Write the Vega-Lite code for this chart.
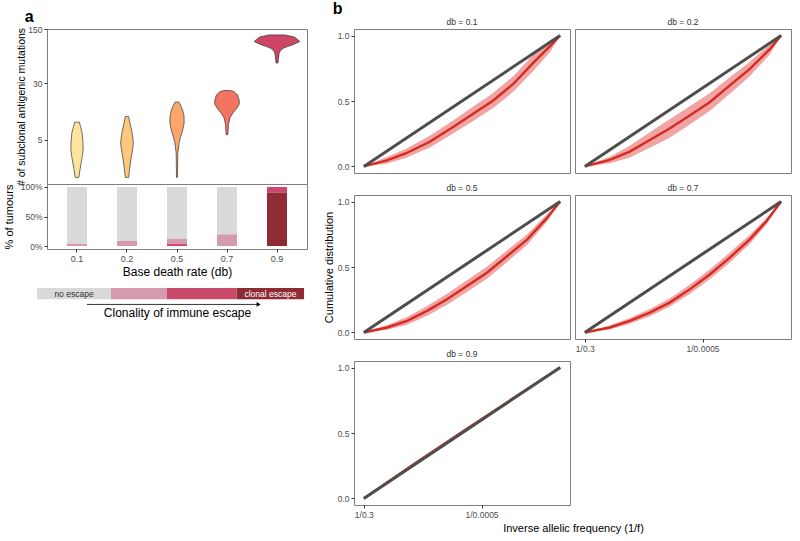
{
  "$schema": "https://vega.github.io/schema/vega-lite/v6.json",
  "background": "white",
  "padding": {"left": 2, "right": 4, "top": 1, "bottom": 2},
  "config": {
    "font": "Liberation Sans",
    "view": {"stroke": "#7f7f7f", "strokeWidth": 1},
    "axis": {"grid": false, "domain": false, "ticks": true, "tickColor": "#333333", "tickSize": 3, "labelColor": "#4d4d4d", "labelFontSize": 8.5, "labelPadding": 2, "titleFontWeight": "normal", "titleColor": "#000000", "titleFontSize": 11},
    "title": {"fontWeight": "normal"}
  },
  "datasets": {
    "violin": [
      {"db": "0.1", "mutations": 0.99, "width": 3.7},
      {"db": "0.1", "mutations": 1.5, "width": 6},
      {"db": "0.1", "mutations": 2.04, "width": 8.3},
      {"db": "0.1", "mutations": 2.65, "width": 10.5},
      {"db": "0.1", "mutations": 3.47, "width": 12.3},
      {"db": "0.1", "mutations": 4.8, "width": 11.8},
      {"db": "0.1", "mutations": 6.3, "width": 10.3},
      {"db": "0.1", "mutations": 7.8, "width": 7},
      {"db": "0.1", "mutations": 9.0, "width": 4.7},
      {"db": "0.2", "mutations": 0.99, "width": 3.3},
      {"db": "0.2", "mutations": 1.6, "width": 5.5},
      {"db": "0.2", "mutations": 2.34, "width": 7.7},
      {"db": "0.2", "mutations": 3.22, "width": 10.5},
      {"db": "0.2", "mutations": 4.4, "width": 12.7},
      {"db": "0.2", "mutations": 5.6, "width": 11.3},
      {"db": "0.2", "mutations": 7.0, "width": 9},
      {"db": "0.2", "mutations": 8.7, "width": 6},
      {"db": "0.2", "mutations": 10.8, "width": 3.3},
      {"db": "0.5", "mutations": 0.99, "width": 1},
      {"db": "0.5", "mutations": 1.89, "width": 1.3},
      {"db": "0.5", "mutations": 3.07, "width": 1.7},
      {"db": "0.5", "mutations": 4.45, "width": 4.3},
      {"db": "0.5", "mutations": 5.35, "width": 6.8},
      {"db": "0.5", "mutations": 6.29, "width": 9.7},
      {"db": "0.5", "mutations": 7.5, "width": 12.5},
      {"db": "0.5", "mutations": 8.76, "width": 14.3},
      {"db": "0.5", "mutations": 11.0, "width": 14},
      {"db": "0.5", "mutations": 13.4, "width": 11},
      {"db": "0.5", "mutations": 15.2, "width": 7.5},
      {"db": "0.5", "mutations": 17.0, "width": 3.7},
      {"db": "0.7", "mutations": 5.94, "width": 1.7},
      {"db": "0.7", "mutations": 8.3, "width": 3},
      {"db": "0.7", "mutations": 10.3, "width": 5.7},
      {"db": "0.7", "mutations": 12.05, "width": 11.7},
      {"db": "0.7", "mutations": 14.1, "width": 20},
      {"db": "0.7", "mutations": 16.1, "width": 24.7},
      {"db": "0.7", "mutations": 18.2, "width": 24.3},
      {"db": "0.7", "mutations": 21.3, "width": 20.7},
      {"db": "0.7", "mutations": 23.3, "width": 14},
      {"db": "0.7", "mutations": 24.2, "width": 6.7},
      {"db": "0.9", "mutations": 55.3, "width": 2},
      {"db": "0.9", "mutations": 63.8, "width": 3},
      {"db": "0.9", "mutations": 74, "width": 4.3},
      {"db": "0.9", "mutations": 80, "width": 7},
      {"db": "0.9", "mutations": 85.7, "width": 12.7},
      {"db": "0.9", "mutations": 90.5, "width": 22},
      {"db": "0.9", "mutations": 94.5, "width": 31},
      {"db": "0.9", "mutations": 100.4, "width": 40},
      {"db": "0.9", "mutations": 104.5, "width": 45.7},
      {"db": "0.9", "mutations": 111, "width": 41},
      {"db": "0.9", "mutations": 119, "width": 35},
      {"db": "0.9", "mutations": 126.9, "width": 16}
    ],
    "bars": [
      {"db": "0.1", "escape": "subclonal low", "pct": 4.4},
      {"db": "0.1", "escape": "unescaped", "pct": 95.6},
      {"db": "0.2", "escape": "subclonal low", "pct": 8.5},
      {"db": "0.2", "escape": "unescaped", "pct": 91.5},
      {"db": "0.5", "escape": "subclonal high", "pct": 3.4},
      {"db": "0.5", "escape": "subclonal low", "pct": 8.6},
      {"db": "0.5", "escape": "unescaped", "pct": 88},
      {"db": "0.7", "escape": "subclonal low", "pct": 20},
      {"db": "0.7", "escape": "unescaped", "pct": 80},
      {"db": "0.9", "escape": "clonal", "pct": 90},
      {"db": "0.9", "escape": "subclonal high", "pct": 10}
    ],
    "legend": [
      {"escape": "unescaped", "label": "no escape", "start": 0, "end": 27.7},
      {"escape": "subclonal low", "label": "", "start": 27.7, "end": 48.6},
      {"escape": "subclonal high", "label": "", "start": 48.6, "end": 74.8},
      {"escape": "clonal", "label": "clonal escape", "start": 74.8, "end": 100}
    ],
    "curves": [
      {"db": "0.1", "invf": 3.3, "mean": 0, "lo": 0, "hi": 0},
      {"db": "0.1", "invf": 383, "mean": 0.045, "lo": 0.02, "hi": 0.07},
      {"db": "0.1", "invf": 722, "mean": 0.101, "lo": 0.066, "hi": 0.136},
      {"db": "0.1", "invf": 1122, "mean": 0.189, "lo": 0.144, "hi": 0.234},
      {"db": "0.1", "invf": 1518, "mean": 0.302, "lo": 0.252, "hi": 0.352},
      {"db": "0.1", "invf": 1858, "mean": 0.403, "lo": 0.348, "hi": 0.458},
      {"db": "0.1", "invf": 2198, "mean": 0.504, "lo": 0.446, "hi": 0.562},
      {"db": "0.1", "invf": 2537, "mean": 0.63, "lo": 0.57, "hi": 0.69},
      {"db": "0.1", "invf": 2880, "mean": 0.793, "lo": 0.731, "hi": 0.855},
      {"db": "0.1", "invf": 3163, "mean": 0.919, "lo": 0.874, "hi": 0.964},
      {"db": "0.1", "invf": 3333, "mean": 1, "lo": 1, "hi": 1},
      {"db": "0.2", "invf": 3.3, "mean": 0, "lo": 0, "hi": 0},
      {"db": "0.2", "invf": 426, "mean": 0.05, "lo": 0.025, "hi": 0.075},
      {"db": "0.2", "invf": 766, "mean": 0.113, "lo": 0.068, "hi": 0.158},
      {"db": "0.2", "invf": 1106, "mean": 0.202, "lo": 0.142, "hi": 0.262},
      {"db": "0.2", "invf": 1442, "mean": 0.29, "lo": 0.22, "hi": 0.36},
      {"db": "0.2", "invf": 1782, "mean": 0.39, "lo": 0.32, "hi": 0.46},
      {"db": "0.2", "invf": 2121, "mean": 0.491, "lo": 0.423, "hi": 0.559},
      {"db": "0.2", "invf": 2458, "mean": 0.617, "lo": 0.554, "hi": 0.68},
      {"db": "0.2", "invf": 2797, "mean": 0.743, "lo": 0.688, "hi": 0.798},
      {"db": "0.2", "invf": 3137, "mean": 0.894, "lo": 0.854, "hi": 0.934},
      {"db": "0.2", "invf": 3333, "mean": 1, "lo": 1, "hi": 1},
      {"db": "0.5", "invf": 3.3, "mean": 0, "lo": 0, "hi": 0},
      {"db": "0.5", "invf": 400, "mean": 0.038, "lo": 0.02, "hi": 0.056},
      {"db": "0.5", "invf": 736, "mean": 0.089, "lo": 0.059, "hi": 0.119},
      {"db": "0.5", "invf": 1076, "mean": 0.165, "lo": 0.127, "hi": 0.203},
      {"db": "0.5", "invf": 1415, "mean": 0.253, "lo": 0.211, "hi": 0.295},
      {"db": "0.5", "invf": 1752, "mean": 0.354, "lo": 0.309, "hi": 0.399},
      {"db": "0.5", "invf": 2091, "mean": 0.456, "lo": 0.411, "hi": 0.501},
      {"db": "0.5", "invf": 2431, "mean": 0.582, "lo": 0.537, "hi": 0.627},
      {"db": "0.5", "invf": 2771, "mean": 0.709, "lo": 0.669, "hi": 0.749},
      {"db": "0.5", "invf": 3107, "mean": 0.873, "lo": 0.843, "hi": 0.903},
      {"db": "0.5", "invf": 3333, "mean": 1, "lo": 1, "hi": 1},
      {"db": "0.7", "invf": 3.3, "mean": 0, "lo": 0, "hi": 0},
      {"db": "0.7", "invf": 426, "mean": 0.038, "lo": 0.023, "hi": 0.053},
      {"db": "0.7", "invf": 766, "mean": 0.089, "lo": 0.067, "hi": 0.111},
      {"db": "0.7", "invf": 1106, "mean": 0.152, "lo": 0.124, "hi": 0.18},
      {"db": "0.7", "invf": 1442, "mean": 0.228, "lo": 0.196, "hi": 0.26},
      {"db": "0.7", "invf": 1782, "mean": 0.329, "lo": 0.294, "hi": 0.364},
      {"db": "0.7", "invf": 2121, "mean": 0.443, "lo": 0.406, "hi": 0.48},
      {"db": "0.7", "invf": 2458, "mean": 0.57, "lo": 0.532, "hi": 0.608},
      {"db": "0.7", "invf": 2797, "mean": 0.709, "lo": 0.674, "hi": 0.744},
      {"db": "0.7", "invf": 3080, "mean": 0.848, "lo": 0.823, "hi": 0.873},
      {"db": "0.7", "invf": 3333, "mean": 1, "lo": 1, "hi": 1},
      {"db": "0.9", "invf": 3.3, "mean": 0, "lo": 0, "hi": 0},
      {"db": "0.9", "invf": 836, "mean": 0.258, "lo": 0.254, "hi": 0.262},
      {"db": "0.9", "invf": 1668, "mean": 0.508, "lo": 0.504, "hi": 0.512},
      {"db": "0.9", "invf": 2501, "mean": 0.755, "lo": 0.751, "hi": 0.759},
      {"db": "0.9", "invf": 3333, "mean": 1, "lo": 1, "hi": 1}
    ],
    "neutral": [
      {"invf": 3.3, "cum": 0},
      {"invf": 3333, "cum": 1}
    ]
  },
  "hconcat": [
    {
      "title": {"text": "a", "anchor": "start", "fontSize": 16, "fontWeight": "bold", "color": "#000000", "offset": 0, "dx": 22},
      "spacing": 10,
      "resolve": {"scale": {"color": "independent"}},
      "vconcat": [
        {
          "spacing": 0,
          "bounds": "flush",
          "resolve": {"scale": {"color": "independent"}},
          "vconcat": [
            {
              "width": 260,
              "height": 155,
              "data": {"name": "violin"},
              "transform": [
                {"calculate": "indexof(['0.1','0.2','0.5','0.7','0.9'], datum.db) + 1", "as": "pos"},
                {"calculate": "datum.pos - datum.width / 100", "as": "left"},
                {"calculate": "datum.pos + datum.width / 100", "as": "right"}
              ],
              "mark": {"type": "area", "orient": "horizontal", "stroke": "#333333", "strokeWidth": 0.7, "opacity": 1},
              "encoding": {
                "y": {"field": "mutations", "type": "quantitative", "scale": {"type": "symlog", "constant": 1, "domain": [0.64, 151], "nice": false, "zero": false}, "axis": {"values": [5, 30, 150], "title": "# of subclonal antigenic mutations", "titlePadding": 1, "titleFontSize": 10.5}},
                "x": {"field": "left", "type": "quantitative", "scale": {"domain": [0.4, 5.6], "nice": false, "zero": false}, "axis": null},
                "x2": {"field": "right"},
                "color": {"field": "db", "type": "nominal", "scale": {"domain": ["0.1", "0.2", "0.5", "0.7", "0.9"], "range": ["#FEE39B", "#FDC77C", "#FBA66B", "#F37460", "#CE4566"]}, "legend": null}
              }
            },
            {
              "width": 260,
              "height": 65,
              "data": {"name": "bars"},
              "mark": {"type": "bar"},
              "encoding": {
                "x": {"field": "db", "type": "nominal", "scale": {"paddingInner": 0.6, "paddingOuter": 0.4}, "axis": {"labelAngle": 0, "title": "Base death rate (db)", "labelFontSize": 9, "titleFontSize": 12, "titlePadding": 3}},
                "y": {"field": "pct", "type": "quantitative", "stack": "zero", "scale": {"domain": [-5, 105], "nice": false, "zero": false}, "axis": {"values": [0, 50, 100], "labelExpr": "datum.value + '%'", "title": "% of tumours", "titlePadding": 6}},
                "color": {"field": "escape", "type": "nominal", "scale": {"domain": ["clonal", "subclonal high", "subclonal low", "unescaped"], "range": ["#8E2B35", "#C9496D", "#D49AAE", "#D9D9D9"]}, "legend": null},
                "order": {"field": "escape", "type": "nominal", "sort": "ascending"}
              }
            }
          ]
        },
        {
          "width": 260,
          "height": 17,
          "view": {"stroke": null},
          "layer": [
            {
              "data": {"name": "legend"},
              "mark": {"type": "bar"},
              "encoding": {
                "x": {"field": "start", "type": "quantitative", "scale": {"domain": [3.745, 101.1], "nice": false, "zero": false}, "axis": {"title": "Clonality of immune escape", "labels": false, "ticks": false, "domain": false, "titleFontSize": 12, "titlePadding": 2}},
                "x2": {"field": "end"},
                "y": {"datum": 1, "type": "quantitative", "scale": {"domain": [-0.5, 1], "nice": false, "zero": false}, "axis": null},
                "y2": {"datum": 0},
                "color": {"field": "escape", "type": "nominal", "scale": {"domain": ["clonal", "subclonal high", "subclonal low", "unescaped"], "range": ["#8E2B35", "#C9496D", "#D49AAE", "#D9D9D9"]}, "legend": null}
              }
            },
            {
              "data": {"name": "legend"},
              "transform": [{"filter": "datum.label != ''"}, {"calculate": "(datum.start + datum.end) / 2", "as": "mid"}],
              "mark": {"type": "text", "fontSize": 8.5, "baseline": "middle"},
              "encoding": {
                "x": {"field": "mid", "type": "quantitative"},
                "y": {"datum": 0.5, "type": "quantitative"},
                "text": {"field": "label"},
                "color": {"condition": {"test": "datum.escape == 'clonal'", "value": "#ffffff"}, "value": "#333333"}
              }
            },
            {
              "data": {"values": [{}]},
              "mark": {"type": "rule", "color": "#000000", "strokeWidth": 0.8},
              "encoding": {"x": {"datum": 18.7, "type": "quantitative"}, "x2": {"datum": 82.5}, "y": {"datum": -0.45, "type": "quantitative"}}
            },
            {
              "data": {"values": [{}]},
              "mark": {"type": "point", "shape": "triangle-right", "filled": true, "color": "#000000", "size": 22, "opacity": 1},
              "encoding": {"x": {"datum": 83, "type": "quantitative"}, "y": {"datum": -0.45, "type": "quantitative"}}
            }
          ]
        }
      ]
    },
    {
      "title": {"text": "b", "anchor": "start", "fontSize": 16, "fontWeight": "bold", "color": "#000000", "offset": 0, "dx": 10},
      "columns": 2,
      "bounds": "flush",
      "spacing": {"row": 22, "column": 5},
      "concat": [
        {
          "width": 216, "height": 144,
          "title": {"text": "db = 0.1", "fontSize": 8.5, "color": "#333333", "offset": 3},
          "layer": [
            {"data": {"name": "curves"}, "transform": [{"filter": "datum.db == '0.1'"}], "mark": {"type": "area", "color": "#F0A4A4", "opacity": 1},
             "encoding": {"x": {"field": "invf", "type": "quantitative", "scale": {"domain": [-163, 3500], "nice": false, "zero": false}, "axis": null}, "y": {"field": "lo", "type": "quantitative", "scale": {"domain": [-0.05, 1.05], "nice": false, "zero": false}, "axis": {"values": [0, 0.5, 1], "format": ".1f", "title": null}}, "y2": {"field": "hi"}}},
            {"data": {"name": "curves"}, "transform": [{"filter": "datum.db == '0.1'"}], "mark": {"type": "line", "color": "#D52B21", "strokeWidth": 2.4},
             "encoding": {"x": {"field": "invf", "type": "quantitative"}, "y": {"field": "mean", "type": "quantitative"}}},
            {"data": {"name": "neutral"}, "mark": {"type": "line", "color": "#4D4D4D", "strokeWidth": 3},
             "encoding": {"x": {"field": "invf", "type": "quantitative"}, "y": {"field": "cum", "type": "quantitative"}}}
          ]
        },
        {
          "width": 216, "height": 144,
          "title": {"text": "db = 0.2", "fontSize": 8.5, "color": "#333333", "offset": 3},
          "layer": [
            {"data": {"name": "curves"}, "transform": [{"filter": "datum.db == '0.2'"}], "mark": {"type": "area", "color": "#F0A4A4", "opacity": 1},
             "encoding": {"x": {"field": "invf", "type": "quantitative", "scale": {"domain": [-163, 3500], "nice": false, "zero": false}, "axis": null}, "y": {"field": "lo", "type": "quantitative", "scale": {"domain": [-0.05, 1.05], "nice": false, "zero": false}, "axis": null}, "y2": {"field": "hi"}}},
            {"data": {"name": "curves"}, "transform": [{"filter": "datum.db == '0.2'"}], "mark": {"type": "line", "color": "#D52B21", "strokeWidth": 2.4},
             "encoding": {"x": {"field": "invf", "type": "quantitative"}, "y": {"field": "mean", "type": "quantitative"}}},
            {"data": {"name": "neutral"}, "mark": {"type": "line", "color": "#4D4D4D", "strokeWidth": 3},
             "encoding": {"x": {"field": "invf", "type": "quantitative"}, "y": {"field": "cum", "type": "quantitative"}}}
          ]
        },
        {
          "width": 216, "height": 144,
          "title": {"text": "db = 0.5", "fontSize": 8.5, "color": "#333333", "offset": 3},
          "layer": [
            {"data": {"name": "curves"}, "transform": [{"filter": "datum.db == '0.5'"}], "mark": {"type": "area", "color": "#F0A4A4", "opacity": 1},
             "encoding": {"x": {"field": "invf", "type": "quantitative", "scale": {"domain": [-163, 3500], "nice": false, "zero": false}, "axis": null}, "y": {"field": "lo", "type": "quantitative", "scale": {"domain": [-0.05, 1.05], "nice": false, "zero": false}, "axis": {"values": [0, 0.5, 1], "format": ".1f", "title": "Cumulative distribution", "titlePadding": 3}}, "y2": {"field": "hi"}}},
            {"data": {"name": "curves"}, "transform": [{"filter": "datum.db == '0.5'"}], "mark": {"type": "line", "color": "#D52B21", "strokeWidth": 2.4},
             "encoding": {"x": {"field": "invf", "type": "quantitative"}, "y": {"field": "mean", "type": "quantitative"}}},
            {"data": {"name": "neutral"}, "mark": {"type": "line", "color": "#4D4D4D", "strokeWidth": 3},
             "encoding": {"x": {"field": "invf", "type": "quantitative"}, "y": {"field": "cum", "type": "quantitative"}}}
          ]
        },
        {
          "width": 216, "height": 144,
          "title": {"text": "db = 0.7", "fontSize": 8.5, "color": "#333333", "offset": 3},
          "layer": [
            {"data": {"name": "curves"}, "transform": [{"filter": "datum.db == '0.7'"}], "mark": {"type": "area", "color": "#F0A4A4", "opacity": 1},
             "encoding": {"x": {"field": "invf", "type": "quantitative", "scale": {"domain": [-163, 3500], "nice": false, "zero": false}, "axis": {"values": [3.333, 2000], "labelExpr": "datum.value < 10 ? '1/0.3' : '1/0.0005'", "title": null}}, "y": {"field": "lo", "type": "quantitative", "scale": {"domain": [-0.05, 1.05], "nice": false, "zero": false}, "axis": null}, "y2": {"field": "hi"}}},
            {"data": {"name": "curves"}, "transform": [{"filter": "datum.db == '0.7'"}], "mark": {"type": "line", "color": "#D52B21", "strokeWidth": 2.4},
             "encoding": {"x": {"field": "invf", "type": "quantitative"}, "y": {"field": "mean", "type": "quantitative"}}},
            {"data": {"name": "neutral"}, "mark": {"type": "line", "color": "#4D4D4D", "strokeWidth": 3},
             "encoding": {"x": {"field": "invf", "type": "quantitative"}, "y": {"field": "cum", "type": "quantitative"}}}
          ]
        },
        {
          "width": 216, "height": 144,
          "title": {"text": "db = 0.9", "fontSize": 8.5, "color": "#333333", "offset": 3},
          "layer": [
            {"data": {"name": "curves"}, "transform": [{"filter": "datum.db == '0.9'"}], "mark": {"type": "area", "color": "#F0A4A4", "opacity": 1},
             "encoding": {"x": {"field": "invf", "type": "quantitative", "scale": {"domain": [-163, 3500], "nice": false, "zero": false}, "axis": {"values": [3.333, 2000], "labelExpr": "datum.value < 10 ? '1/0.3' : '1/0.0005'", "title": "Inverse allelic frequency (1/f)", "titleX": 219, "titleAlign": "center", "titlePadding": 4}}, "y": {"field": "lo", "type": "quantitative", "scale": {"domain": [-0.05, 1.05], "nice": false, "zero": false}, "axis": {"values": [0, 0.5, 1], "format": ".1f", "title": null}}, "y2": {"field": "hi"}}},
            {"data": {"name": "curves"}, "transform": [{"filter": "datum.db == '0.9'"}], "mark": {"type": "line", "color": "#D52B21", "strokeWidth": 2.4},
             "encoding": {"x": {"field": "invf", "type": "quantitative"}, "y": {"field": "mean", "type": "quantitative"}}},
            {"data": {"name": "neutral"}, "mark": {"type": "line", "color": "#4D4D4D", "strokeWidth": 3},
             "encoding": {"x": {"field": "invf", "type": "quantitative"}, "y": {"field": "cum", "type": "quantitative"}}}
          ]
        }
      ]
    }
  ],
  "spacing": 14
}
